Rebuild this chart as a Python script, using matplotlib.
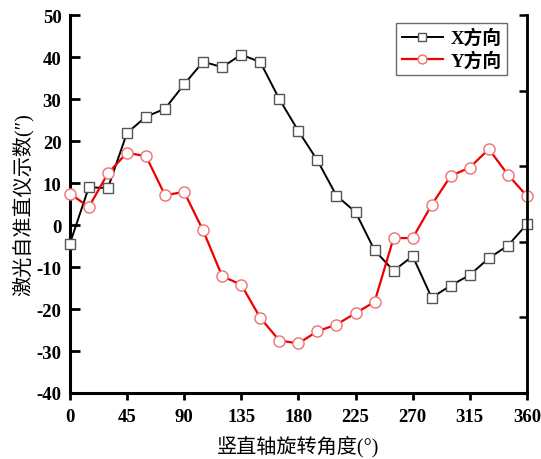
import numpy as np
import matplotlib.pyplot as plt

plt.rcParams['font.family'] = ['Liberation Serif', 'Noto Sans CJK SC']
plt.rcParams['axes.unicode_minus'] = False

angles = list(range(0, 361, 15))
x_dir = [-4.5, 9.0, 8.8, 21.9, 25.8, 27.7, 33.5, 38.9, 37.6, 40.6, 38.8, 30.0, 22.4,
         15.4, 7.0, 3.1, -6.0, -10.9, -7.4, -17.3, -14.4, -11.9, -7.9, -4.9, 0.2]
y_dir = [7.5, 4.3, 12.3, 17.2, 16.4, 7.1, 7.9, -1.3, -12.2, -14.2, -22.1, -27.5, -28.2,
         -25.3, -23.7, -21.0, -18.3, -3.1, -3.1, 4.8, 11.7, 13.7, 18.1, 12.0, 6.9]
x_ticks = [0, 45, 90, 135, 180, 225, 270, 315, 360]
y_ticks = [-40, -30, -20, -10, 0, 10, 20, 30, 40, 50]

fig = plt.figure(figsize=(5.41, 4.6), dpi=100)
ax = fig.add_axes([0.129, 0.1435, 0.845, 0.8215])

ax.plot(angles, x_dir, color='black', lw=1.4, marker='s', ms=7,
        mfc='white', mec='#555555', mew=1.0, label='X方向', clip_on=False, zorder=3)
ax.plot(angles, y_dir, color='#ee0000', lw=1.6, marker='o', ms=8,
        mfc='white', mec='#f07070', mew=1.0, label='Y方向', clip_on=False, zorder=3)

ax.set_xlim(0, 360)
ax.set_ylim(-40, 50)
ax.set_xticks(x_ticks)
ax.set_yticks(y_ticks)
ax.tick_params(axis='y', direction='in', length=7, width=2, labelsize=13.5, pad=6)
ax.tick_params(axis='x', direction='out', length=5, width=2, labelsize=13.5, pad=6)
for lab in ax.get_xticklabels() + ax.get_yticklabels():
    lab.set_fontweight('bold')

ax.spines['top'].set_visible(False)
ax.spines['left'].set_linewidth(2.2)
ax.spines['bottom'].set_linewidth(2.2)
ax.spines['right'].set_linewidth(1.8)

# right axis: only tick marks
ax2 = ax.twinx()
ax2.set_ylim(0, 5)
ax2.set_yticks(range(6))
ax2.set_yticklabels([])
ax2.tick_params(direction='in', length=6, width=1.8)
for s in ['top', 'left', 'bottom']:
    ax2.spines[s].set_visible(False)
ax2.spines['right'].set_linewidth(1.8)

ax.set_xlabel('竖直轴旋转角度(°)', fontsize=14.5, labelpad=7)
ax.set_ylabel('激光自准直仪示数(″)', fontsize=14.5, labelpad=2)

leg = ax.legend(loc='upper right', bbox_to_anchor=(0.957, 0.979), borderaxespad=0,
                prop={'weight': 'bold', 'size': 13.5},
                frameon=True, fancybox=False, edgecolor='#444444',
                handlelength=2.2, borderpad=0.3, labelspacing=0.2,
                handletextpad=0.4, markerscale=0.8)
leg.get_frame().set_linewidth(1.0)

fig.savefig('out.png', dpi=100)
